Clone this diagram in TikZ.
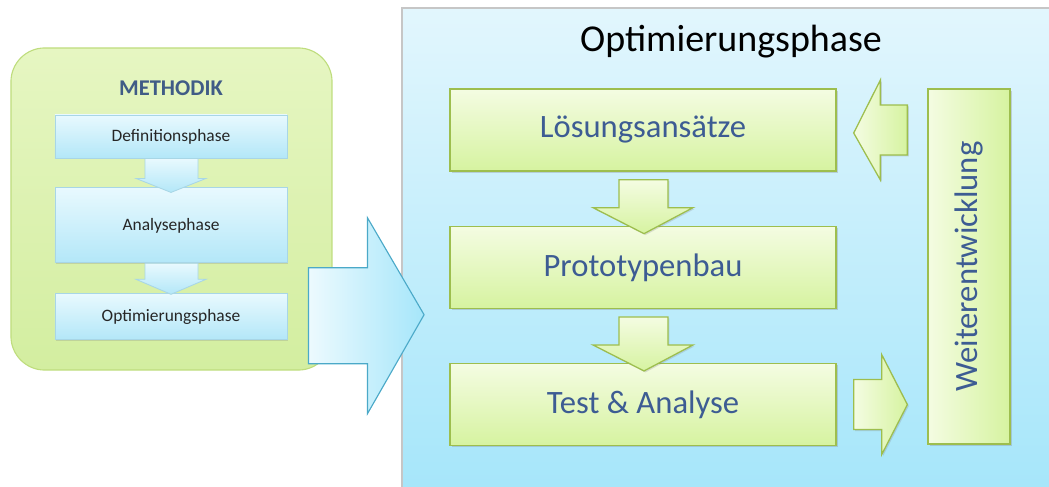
\documentclass[tikz,border=0pt]{standalone}
\usepackage{fontspec}
\setmainfont{Carlito}
\usetikzlibrary{positioning, calc, shadows}
\definecolor{methgreen}{HTML}{E6F6C2}
\definecolor{methgreendark}{HTML}{D3EEA0}
\definecolor{methborder}{HTML}{BFDD7E}
\definecolor{phaselight}{HTML}{E8F9FE}
\definecolor{phasedark}{HTML}{B3E7F8}
\definecolor{phaseborder}{HTML}{A8D6E6}
\definecolor{panellight}{HTML}{E2F6FD}
\definecolor{paneldark}{HTML}{A6E6FA}
\definecolor{boxlight}{HTML}{F4FCE2}
\definecolor{boxdark}{HTML}{D6F3A0}
\definecolor{boxborder}{HTML}{9DBE4E}
\definecolor{bluearrowline}{HTML}{4BA9C8}
\definecolor{labelblue}{HTML}{3D5C93}
\definecolor{methodikblue}{HTML}{405C86}
\tikzstyle{methodbox} = [rectangle, rounded corners=24pt, minimum width=8.025cm, minimum height=8.05cm, draw=methborder, line width=0.8pt, top color=methgreen, bottom color=methgreendark, inner sep=0pt]
\tikzstyle{phasebox} = [rectangle, minimum width=5.8cm, text centered, draw=phaseborder, line width=0.6pt, top color=phaselight, bottom color=phasedark, drop shadow={shadow xshift=1pt, shadow yshift=-1pt, opacity=0.25}, font=\fontsize{12.4}{14}\selectfont, text=black!85]
\tikzstyle{panel} = [rectangle, minimum width=16.25cm, minimum height=12.05cm, draw=gray!45, line width=1.2pt, top color=panellight, bottom color=paneldark, inner sep=0pt]
\tikzstyle{stepbox} = [rectangle, minimum width=9.65cm, minimum height=2.05cm, text centered, draw=boxborder, line width=0.9pt, top color=boxlight, bottom color=boxdark, drop shadow={shadow xshift=1.2pt, shadow yshift=-1.2pt, opacity=0.3}, font=\fontsize{23.2}{26}\selectfont, text=labelblue]
\tikzstyle{sidebox} = [rectangle, minimum width=8.875cm, minimum height=2.05cm, text centered, draw=boxborder, line width=0.9pt, left color=boxlight, right color=boxdark, rotate=90, drop shadow={shadow xshift=1.2pt, shadow yshift=-1.2pt, opacity=0.3}, font=\fontsize{23.2}{26}\selectfont, text=labelblue]
\tikzstyle{smallarrow} = [draw=phaseborder, line width=0.6pt, top color=phaselight, bottom color=phasedark]
\tikzstyle{greenarrow} = [draw=boxborder, line width=0.9pt, top color=boxlight, bottom color=boxdark, drop shadow={shadow xshift=1pt, shadow yshift=-1pt, opacity=0.25}]
\tikzstyle{greenarrowh} = [draw=boxborder, line width=0.9pt, left color=boxlight, right color=boxdark, drop shadow={shadow xshift=1pt, shadow yshift=-1pt, opacity=0.25}]
\tikzstyle{bigarrow} = [draw=bluearrowline, line width=0.8pt, left color=phaselight!80!white, right color=paneldark]

\begin{document}
\begin{tikzpicture}[x=0.025cm, y=-0.025cm]
  \useasboundingbox (0,0) rectangle (1049,486);
  % linke Seite: Methodik
  \node (methodik) [methodbox] at (171.5,209) {};
  \node (methtitle) [font=\fontsize{16}{18}\selectfont\bfseries, text=methodikblue] at (171,88) {METHODIK};
  \node (def) [phasebox, minimum height=1.075cm] at (171,136.5) {Definitionsphase};
  \node (ana) [phasebox, minimum height=1.875cm, below=0.725cm of def] {Analysephase};
  \node (optL) [phasebox, minimum height=1.15cm, below=0.75cm of ana] {Optimierungsphase};

  % kleine Pfeile zwischen den Phasen
  \draw [smallarrow] ($(def.south)+(-26,0)$) -- ++(53,0) -- ++(0,20) -- ++(8,0) -- ($(ana.north)+(0,5)$) -- ($(def.south)+(-35,20)$) -- ++(9,0) -- cycle;
  \draw [smallarrow] ($(ana.south)+(-26,0)$) -- ++(53,0) -- ++(0,16) -- ++(8,0) -- ($(optL.north)+(0,1)$) -- ($(ana.south)+(-35,16)$) -- ++(9,0) -- cycle;

  % rechte Seite: Optimierungsphase
  \node (panel) [panel] at (727,249) {};
  \node (title) [font=\fontsize{27}{30}\selectfont, text=black] at (731,42) {Optimierungsphase};
  \node (loes) [stepbox] at (643,130) {Lösungsansätze};
  \node (proto) [stepbox, below=1.35cm of loes] {Prototypenbau};
  \node (test) [stepbox, below=1.35cm of proto] {Test \& Analyse};
  \node (weiter) [sidebox] at (969,266.5) {Weiterentwicklung};

  % grosser Pfeil
  \draw [bigarrow] ($(optL.east)+(21,-49)$) -- ++(59,0) -- ++(0,-50) -- ($(panel.west |- optL.east)+(23,-2)$) -- ($(optL.east)+(80,97)$) -- ++(0,-50) -- ++(-59,0) -- cycle;

  % Pfeile innerhalb
  \draw [greenarrow] ($(loes.south)+(-24,8)$) -- ++(49,0) -- ++(0,28) -- ++(25,0) -- ($(proto.north)+(1,8)$) -- ($(loes.south)+(-50,36)$) -- ++(26,0) -- cycle;
  \draw [greenarrow] ($(proto.south)+(-24,8)$) -- ++(49,0) -- ++(0,28) -- ++(25,0) -- ($(test.north)+(1,8)$) -- ($(proto.south)+(-50,36)$) -- ++(26,0) -- cycle;
  \draw [greenarrowh] ($(weiter.north |- loes.east)+(-20,-25)$) -- ++(0,50) -- ++(-27,0) -- ++(0,25) -- ($(loes.east)+(17,3)$) -- ($(weiter.north |- loes.east)+(-47,-50)$) -- ++(0,25) -- cycle;
  \draw [greenarrowh] ($(test.east)+(17,-25)$) -- ++(28,0) -- ++(0,-25) -- ($(weiter.north |- test.east)+(-20,0)$) -- ($(test.east)+(45,50)$) -- ++(0,-25) -- ++(-28,0) -- cycle;
\end{tikzpicture}
\end{document}
